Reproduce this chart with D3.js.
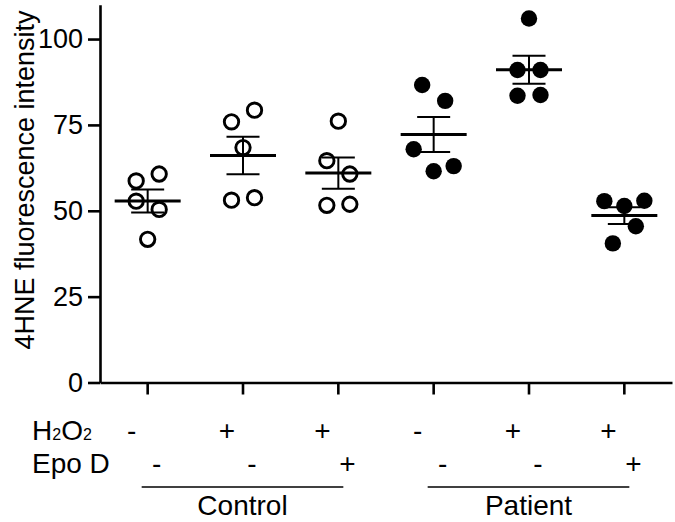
<!DOCTYPE html>
<html><head><meta charset="utf-8">
<script src="https://cdn.jsdelivr.net/npm/d3@7"></script>
<style>
body{margin:0;background:#fff}
svg{display:block}
text{font-family:"Liberation Sans",Arial,Helvetica,sans-serif;fill:#000}
</style>
</head><body>
<svg id="chart" width="675" height="522"></svg>
<script>
// ---- data ----
const categories = ["C1", "C2", "C3", "P1", "P2", "P3"];
const h2o2 = ["-", "+", "+", "-", "+", "+"];
const epoD = ["-", "-", "+", "-", "-", "+"];
const filledMarker = [false, false, false, true, true, true];
const groupNames = ["Control", "Patient"];
const groupFirst = [0, 3];
const groupLast = [2, 5];
const yTicks = [0, 25, 50, 75, 100];
const yLabel = "4HNE fluorescence intensity";
const controlNone = [58.7, 60.7, 52.8, 50.4, 41.7];
const controlH2O2 = [75.9, 79.3, 68.4, 53.1, 53.8];
const controlH2O2Epo = [76.1, 64.6, 60.7, 51.6, 51.9];
const patientNone = [86.6, 82.0, 67.9, 61.5, 63.0];
const patientH2O2 = [106.0, 91.0, 91.0, 83.5, 83.7];
const patientH2O2Epo = [52.8, 51.4, 52.9, 40.5, 45.5];
const seriesValues = [controlNone, controlH2O2, controlH2O2Epo, patientNone, patientH2O2, patientH2O2Epo];

// ---- layout ----
const svg = d3.select("#chart");
const x = d3.scaleBand().domain(categories).range([100, 672]).padding(0);
const cx = c => x(c) + x.bandwidth() / 2;
const y = d3.scaleLinear().domain([0, 110]).range([382.5, 4.7]);

// y axis
const yAxis = svg.append("g").attr("transform", "translate(100,0)")
  .call(d3.axisLeft(y).tickValues(yTicks).tickSize(12).tickSizeOuter(0).tickPadding(5));
yAxis.select(".domain").attr("stroke", "#000").attr("stroke-width", 2.6);
yAxis.selectAll(".tick line").attr("stroke", "#000").attr("stroke-width", 2.6);
yAxis.selectAll(".tick text").attr("font-size", 27).attr("font-family", null).attr("fill", "#000");

// x axis
const xAxis = svg.append("g").attr("transform", "translate(0,382.5)")
  .call(d3.axisBottom(x).tickSize(12).tickSizeOuter(0).tickFormat(""));
xAxis.select(".domain").attr("stroke", "#000").attr("stroke-width", 2.6);
xAxis.selectAll(".tick line").attr("stroke", "#000").attr("stroke-width", 2.6);

// y label
svg.append("text")
  .attr("transform", "translate(34,180) rotate(-90)")
  .attr("text-anchor", "middle")
  .attr("font-size", 27)
  .text(yLabel);

// point spreading: points with close values share a row and are spread horizontally
function spread(vals) {
  const order = vals.map((v, i) => i).sort((a, b) => vals[b] - vals[a]);
  const bins = [];
  let cur = [order[0]];
  for (let k = 1; k < order.length; k++) {
    if (vals[order[k - 1]] - vals[order[k]] < 5.3) cur.push(order[k]);
    else { bins.push(cur); cur = [order[k]]; }
  }
  bins.push(cur);
  const off = new Array(vals.length).fill(0);
  bins.forEach(b => {
    b.sort((a, c) => a - c);
    const n = b.length;
    const step = n > 1 ? Math.min(23, 40 / (n - 1)) : 0;
    b.forEach((i, j) => { off[i] = (j - (n - 1) / 2) * step; });
  });
  return off;
}

const plot = svg.append("g");
categories.forEach((c, gi) => {
  const vals = seriesValues[gi];
  const off = spread(vals);
  const g = plot.append("g");
  g.selectAll("circle").data(vals).join("circle")
    .attr("cx", (d, i) => cx(c) + off[i])
    .attr("cy", d => y(d))
    .attr("r", filledMarker[gi] ? 8.2 : 7.2)
    .attr("fill", filledMarker[gi] ? "#000" : "none")
    .attr("stroke", filledMarker[gi] ? "none" : "#000")
    .attr("stroke-width", 2.9);
  const m = d3.mean(vals);
  const sem = d3.deviation(vals) / Math.sqrt(vals.length);
  const X = cx(c);
  g.append("line").attr("x1", X - 33).attr("x2", X + 33).attr("y1", y(m)).attr("y2", y(m))
    .attr("stroke", "#000").attr("stroke-width", 3);
  g.append("line").attr("x1", X).attr("x2", X).attr("y1", y(m - sem)).attr("y2", y(m + sem))
    .attr("stroke", "#000").attr("stroke-width", 2);
  [m - sem, m + sem].forEach(v => {
    g.append("line").attr("x1", X - 16.5).attr("x2", X + 16.5).attr("y1", y(v)).attr("y2", y(v))
      .attr("stroke", "#000").attr("stroke-width", 2);
  });
});

// condition rows
const rowH = svg.append("text").attr("x", 32).attr("y", 440).attr("font-size", 28);
rowH.append("tspan").text("H");
rowH.append("tspan").attr("font-size", 16).text("2");
rowH.append("tspan").text("O");
rowH.append("tspan").attr("font-size", 16).text("2");
svg.append("text").attr("x", 32).attr("y", 473).attr("font-size", 28).text("Epo D");

svg.append("g").selectAll("text").data(categories).join("text")
  .attr("x", (c) => cx(c) - 16).attr("y", 440)
  .attr("text-anchor", "middle").attr("font-size", 28)
  .text((c, i) => h2o2[i]);
svg.append("g").selectAll("text").data(categories).join("text")
  .attr("x", (c) => cx(c) + 9).attr("y", 473)
  .attr("text-anchor", "middle").attr("font-size", 28)
  .text((c, i) => epoD[i]);

// group brackets
groupNames.forEach((name, k) => {
  const a = cx(categories[groupFirst[k]]) - 6;
  const b = cx(categories[groupLast[k]]) + 5;
  svg.append("line").attr("x1", a).attr("x2", b).attr("y1", 487).attr("y2", 487)
    .attr("stroke", "#000").attr("stroke-width", 1.6);
  svg.append("text").attr("x", (a + b) / 2).attr("y", 515)
    .attr("text-anchor", "middle").attr("font-size", 28).text(name);
});
</script>
</body></html>
